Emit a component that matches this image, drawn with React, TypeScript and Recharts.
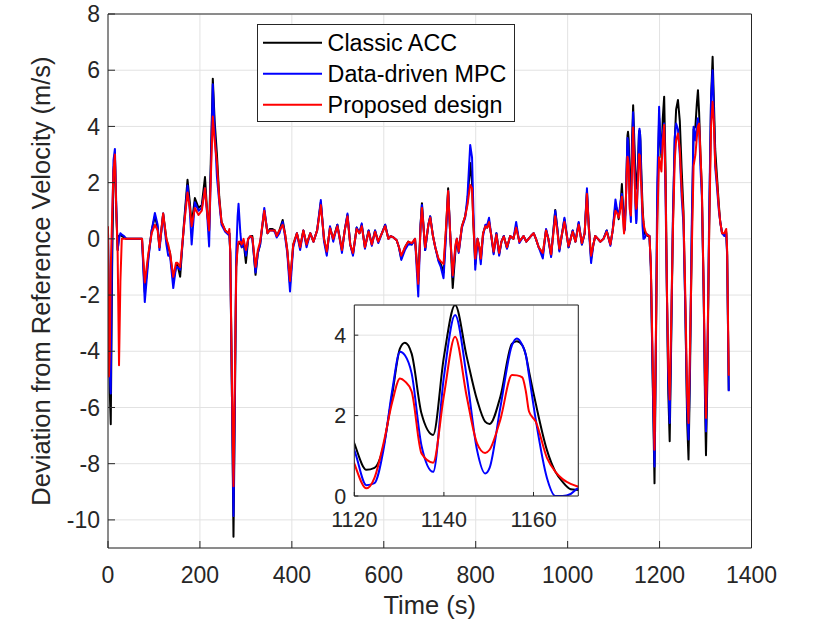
import React from 'react';
import { LineChart, Line, XAxis, YAxis, CartesianGrid, Legend, Label } from 'recharts';

const FONT = "'Liberation Sans', Arial, Helvetica, sans-serif";
const AXIS = '#262626';
const GRID = '#e2e2e2';

// Time (s)
const times = [
  0, 2, 4, 6, 9,
  12, 15, 18, 21, 24,
  27, 30, 35, 40, 74,
  80, 88, 95, 102, 108,
  112, 120, 127, 131, 135,
  142, 148, 151, 157, 165,
  173, 178, 182, 189, 197,
  204, 211, 216, 220, 228,
  232, 237, 242, 247, 255,
  262, 264, 266, 270, 273,
  276, 279, 282, 284, 288,
  291, 295, 300, 305, 310,
  314, 321, 326, 331, 340,
  347, 352, 358, 363, 367,
  373, 380, 385, 390, 396,
  403, 411, 418, 425, 432,
  440, 447, 455, 463, 470,
  476, 483, 490, 499, 509,
  515, 521, 527, 533, 541,
  547, 552, 559, 567, 574,
  581, 588, 596, 603, 610,
  615, 621, 628, 633, 638,
  646, 653, 661, 668, 675,
  680, 683, 690, 697, 701,
  707, 712, 719, 724, 730,
  735, 740, 745, 750, 756,
  759, 763, 770, 777, 782,
  788, 792, 795, 799, 804,
  808, 811, 816, 821, 825,
  829, 834, 839, 845, 851,
  856, 861, 868, 875, 882,
  888, 895, 904, 910, 920,
  926, 931, 937, 946, 953,
  958, 964, 973, 978, 982,
  988, 993, 1002, 1011, 1017,
  1024, 1031, 1037, 1042, 1046,
  1051, 1056, 1060, 1066, 1071,
  1078, 1085, 1093, 1098, 1104,
  1108, 1111, 1115, 1118, 1120,
  1122.7, 1124.5, 1126.5, 1128.5, 1130.2,
  1131.3, 1132.8, 1135, 1137.6, 1140,
  1142.5, 1145.1, 1147.4, 1149.2, 1150.2,
  1152.6, 1155.2, 1156.3, 1157.5, 1158.3,
  1159, 1160.5, 1163, 1164.9, 1166.5,
  1168.3, 1170.1, 1174, 1178, 1181,
  1185, 1189, 1192, 1195, 1199,
  1202, 1204, 1207, 1210, 1213,
  1216, 1219, 1222, 1225, 1229,
  1233, 1236, 1240, 1244, 1248,
  1252, 1256, 1260, 1263, 1266,
  1270, 1274, 1278, 1281, 1283.5,
  1286, 1289, 1292, 1296, 1299,
  1301, 1304, 1308, 1312, 1315.4,
  1318, 1321, 1325, 1329, 1332,
  1336, 1341, 1345, 1347, 1350.5,
];

// Classic ACC
const classicAcc = [
  0.3, -3.0, -5.5, -6.6, -1.0,
  2.4, 3.0, 1.0, -0.4, 0.1,
  0.15, 0.1, 0.05, 0.0, 0.0,
  -1.9, -0.6, 0.3, 0.8, 0.4,
  -0.3, 0.9, 0.0, -0.3, -0.5,
  -1.5, -1.0, -0.9, -1.35, 0.5,
  2.1, 1.3, 0.5, 1.45, 1.1,
  1.2, 2.2, 0.9, 0.3, 5.7,
  4.2, 3.0, 1.5, 0.6, 0.3,
  0.2, 0.2, -0.5, -6.0, -10.6,
  -6.0, -1.0, -0.2, -0.2, -0.1,
  -0.3, -0.1, -0.86, 0.0, 0.1,
  0.1, -1.28, -0.5, -0.2, 1.0,
  0.2, 0.35, 0.35, 0.3, 0.1,
  0.3, 0.67, 0.2, -0.4, -1.6,
  -0.2, 0.2, -0.3, 0.3, -0.2,
  0.2, -0.1, 0.3, 1.3, 0.0,
  -0.5, 0.4, 0.0, 0.5, -0.4,
  0.3, 0.85, -0.2, -0.55, 0.4,
  0.2, 0.5, -0.3, 0.3, -0.2,
  0.3, -0.1, 0.2, 0.5, 0.0,
  0.1, 0.05, -0.05, -0.3, -0.7,
  -0.3, -0.1, -0.2, 0.0, -1.5,
  0.5, 1.27, -0.4, 0.5, 0.8,
  0.1, -0.3, -0.75, -0.9, -1.2,
  0.2, 1.8, 0.0, -1.75, -0.4,
  0.0, -0.45, 0.45, 0.8, 1.3,
  2.7, 2.0, 0.5, -0.9, 0.0,
  -0.3, -0.75, 0.2, 0.45, 0.4,
  0.62, 0.1, -0.5, 0.2, -0.55,
  -0.1, 0.1, -0.33, 0.1, 0.0,
  0.45, -0.1, 0.1, -0.1, 0.1,
  0.2, 0.0, -0.3, -0.55, 0.32,
  0.0, -0.6, 1.03, 0.3, -0.4,
  0.2, 0.7, -0.3, 0.3, -0.1,
  0.56, -0.2, 0.2, 1.68, 0.5,
  -0.7, -0.2, 0.1, 0.0, -0.1,
  0.0, 0.3, -0.2, 0.3, 1.2,
  1.0, 0.7, 1.2, 1.95, 1.31,
  0.65, 0.7, 1.23, 2.55, 3.67,
  3.81, 3.54, 2.05, 1.52, 3.46,
  4.75, 3.46, 2.39, 1.85, 1.79,
  2.47, 3.79, 3.85, 3.75, 3.5,
  3.1, 2.3, 1.14, 0.6, 0.35,
  0.17, 0.15, 0.1, 0.1, -1.0,
  -5.0, -8.7, -4.0, 1.0, 4.3,
  3.5, 2.9, 4.3, 5.06, 2.5,
  -2.0, -5.5, -7.2, -4.0, 0.5,
  3.5, 4.6, 4.94, 4.2, 2.5,
  1.0, -2.5, -6.5, -7.85, -5.0,
  0.0, 3.9, 4.0, 4.8, 5.29,
  4.5, 3.0, 1.8, -2.0, -6.0,
  -7.7, -5.0, 0.5, 5.0, 6.48,
  5.0, 3.2, 2.2, 1.2, 0.6,
  0.2, 0.15, 0.25, -0.5, -5.4,
];

// Data-driven MPC
const dataDrivenMpc = [
  0.3, -3.2, -4.8, -5.5, 0.5,
  2.8, 3.2, 1.2, -0.4, 0.0,
  0.2, 0.15, 0.1, 0.0, 0.0,
  -2.25, -0.7, 0.3, 0.92, 0.5,
  -0.4, 0.9, -0.2, -0.6, -0.6,
  -1.75, -1.0, -1.0, -1.1, 0.4,
  1.9, 1.0, -0.2, 1.3, 1.0,
  1.1, 1.8, 0.8, -0.27, 5.5,
  3.9, 2.2, 1.3, 0.5, 0.25,
  0.15, 0.2, -0.5, -6.0, -9.86,
  -5.5, -0.5, 0.8, 1.25, 0.2,
  -0.3, -0.1, -0.6, 0.0, 0.1,
  0.0, -1.2, -0.5, -0.2, 1.1,
  0.2, 0.3, 0.3, 0.25, 0.05,
  0.2, 0.6, 0.1, -0.5, -1.87,
  -0.3, 0.2, -0.4, 0.3, -0.3,
  0.2, -0.1, 0.3, 1.38, -0.1,
  -0.6, 0.45, -0.1, 0.5, -0.5,
  0.3, 0.9, -0.2, -0.6, 0.4,
  0.2, 0.55, -0.35, 0.3, -0.25,
  0.3, -0.15, 0.2, 0.5, 0.0,
  0.1, 0.05, -0.05, -0.3, -0.75,
  -0.4, -0.2, -0.2, 0.0, -2.05,
  0.5, 1.2, -0.4, 0.5, 0.8,
  0.1, -0.3, -0.8, -1.0, -1.4,
  0.0, 1.7, 0.0, -1.35, -0.3,
  0.0, -0.5, 0.4, 0.75, 1.5,
  3.34, 2.9, 1.0, -1.1, 0.0,
  -0.4, -0.9, 0.1, 0.5, 0.5,
  0.75, 0.1, -0.55, 0.2, -0.6,
  -0.1, 0.1, -0.35, 0.1, 0.0,
  0.6, -0.15, 0.1, -0.1, 0.1,
  0.2, 0.0, -0.3, -0.7, 0.35,
  0.0, -0.65, 1.0, 0.3, -0.45,
  0.2, 0.75, -0.3, 0.3, -0.1,
  0.6, -0.2, 0.2, 1.8, 0.4,
  -0.86, -0.2, 0.1, 0.0, -0.1,
  0.0, 0.3, -0.25, 0.3, 1.4,
  1.0, 0.8, 1.3, 1.6, 1.14,
  0.27, 0.32, 1.14, 2.65, 3.59,
  3.5, 3.05, 1.25, 0.6, 2.96,
  4.5, 2.96, 1.14, 0.56, 0.7,
  2.2, 3.75, 3.92, 3.75, 3.5,
  3.0, 1.9, 0.45, 0.0, 0.0,
  0.05, 0.19, 0.15, 0.1, -1.0,
  -4.8, -8.1, -3.5, 2.0, 4.7,
  3.4, 3.05, 3.8, 4.1, 1.5,
  -2.0, -5.0, -6.55, -3.6, 0.8,
  3.6, 4.1, 3.9, 3.0, 1.5,
  0.5, -2.5, -6.0, -7.14, -4.5,
  0.5, 3.99, 3.5, 4.0, 4.29,
  4.0, 2.5, 1.5, -2.0, -5.5,
  -6.85, -4.5, 1.0, 5.0, 6.0,
  4.5, 2.57, 1.8, 1.0, 0.6,
  0.2, 0.1, 0.2, -0.6, -5.42,
];

// Proposed design
const proposedDesign = [
  0.45, -4.9, -4.0, -1.0, 0.8,
  2.4, 3.0, 1.0, -0.5, -4.5,
  -1.5, 0.0, 0.0, 0.0, 0.0,
  -1.55, -0.5, 0.2, 0.5, 0.3,
  -0.3, 0.9, 0.0, -0.2, -0.5,
  -1.35, -0.85, -0.85, -1.0, 0.4,
  1.65, 1.1, 0.45, 1.1, 0.85,
  1.0, 1.8, 0.9, 0.3, 4.35,
  3.5, 2.7, 1.4, 0.6, 0.3,
  0.2, 0.35, -0.5, -5.5, -8.8,
  -5.0, -1.0, -0.3, -0.1, -0.1,
  -0.2, 0.0, -0.4, 0.0, 0.1,
  0.05, -1.0, -0.4, -0.1, 1.0,
  0.2, 0.3, 0.3, 0.3, 0.1,
  0.3, 0.5, 0.2, -0.4, -1.5,
  -0.2, 0.2, -0.3, 0.3, -0.2,
  0.2, -0.1, 0.3, 1.2, 0.0,
  -0.45, 0.38, 0.0, 0.45, -0.4,
  0.3, 0.8, -0.2, -0.5, 0.35,
  0.2, 0.45, -0.3, 0.25, -0.2,
  0.25, -0.1, 0.2, 0.45, 0.0,
  0.1, 0.05, -0.05, -0.3, -0.6,
  -0.3, -0.1, -0.15, 0.0, -1.6,
  0.4, 1.1, -0.3, 0.5, 0.75,
  0.1, -0.3, -0.7, -0.8, -0.9,
  0.3, 1.7, 0.0, -1.3, -0.2,
  0.0, -0.45, 0.45, 0.8, 1.2,
  1.92, 1.8, 0.5, -0.7, 0.0,
  -0.3, -0.7, 0.2, 0.45, 0.4,
  0.6, 0.1, -0.45, 0.15, -0.5,
  -0.1, 0.08, -0.3, 0.1, 0.0,
  0.4, -0.1, 0.1, -0.1, 0.1,
  0.2, 0.0, -0.3, -0.5, 0.3,
  0.0, -0.55, 0.8, 0.2, -0.35,
  0.2, 0.6, -0.25, 0.25, -0.1,
  0.5, -0.15, 0.2, 1.6, 0.4,
  -0.6, -0.2, 0.1, 0.0, -0.1,
  0.0, 0.25, -0.2, 0.3, 1.0,
  0.9, 0.75, 1.1, 1.5, 0.81,
  0.19, 0.45, 1.3, 2.35, 2.92,
  2.85, 2.6, 1.06, 0.83, 2.5,
  3.96, 2.47, 1.31, 1.07, 1.15,
  1.9, 3.01, 3.0, 2.95, 2.6,
  2.1, 1.85, 0.95, 0.6, 0.42,
  0.3, 0.23, 0.12, 0.1, -0.9,
  -4.3, -7.5, -3.5, 0.5, 2.9,
  2.6, 2.4, 3.5, 4.05, 2.0,
  -1.8, -4.5, -5.72, -3.2, 0.3,
  2.8, 3.5, 3.75, 3.2, 1.8,
  0.8, -2.0, -5.5, -6.55, -4.0,
  -0.5, 2.6, 3.0, 3.6, 4.0,
  4.1, 3.0, 1.8, -1.8, -5.0,
  -6.37, -4.2, 0.3, 4.0, 4.88,
  4.2, 2.7, 2.0, 1.1, 0.6,
  0.2, 0.2, 0.35, -0.4, -4.87,
];

const seriesNames = ['Classic ACC', 'Data-driven MPC', 'Proposed design'];
const seriesColors = ['#000000', '#0000ff', '#ff0000'];
const xTicks = [0, 200, 400, 600, 800, 1000, 1200, 1400];
const yTicks = [-10, -8, -6, -4, -2, 0, 2, 4, 6, 8];
const insetXTicks = [1120, 1140, 1160];
const insetYTicks = [0, 2, 4];

const rows = times.map((t, i) => ({
  t,
  classic: classicAcc[i],
  mpc: dataDrivenMpc[i],
  proposed: proposedDesign[i],
}));

const seriesKeys = ['classic', 'mpc', 'proposed'];

function LegendBox(props: any) {
  const payload = props.payload ?? [];
  return (
    <svg width={258} height={98} style={{ display: 'block' }}>
      <rect x={0.5} y={0.5} width={257} height={97} fill="#ffffff" stroke={AXIS} strokeWidth={1} />
      {payload.map((p: any, i: number) => {
        const cy = 18.7 + i * 31;
        return (
          <g key={i}>
            <line x1={6} x2={65} y1={cy} y2={cy} stroke={p.color} strokeWidth={2} />
            <text x={70.6} y={cy + 8.7} fontSize={23.3} fontFamily={FONT} fill="#000000">
              {p.value}
            </text>
          </g>
        );
      })}
    </svg>
  );
}

const XTitle = () => (
  <text x={429.75} y={614} textAnchor="middle" fontSize={25.5} fontFamily={FONT} fill={AXIS}>
    Time (s)
  </text>
);

const YTitle = () => (
  <text
    x={50}
    y={281}
    transform="rotate(-90 50 281)"
    textAnchor="middle"
    fontSize={25.5}
    fontFamily={FONT}
    fill={AXIS}
  >
    Deviation from Reference Velocity (m/s)
  </text>
);

const tickStyle = { fill: AXIS, fontSize: 23, fontFamily: FONT };
const insetTickStyle = { fill: AXIS, fontSize: 21.5, fontFamily: FONT };

export default function App() {
  return (
    <div style={{ position: 'absolute', left: 0, top: 0, width: 830, height: 623, background: '#ffffff' }}>
      <LineChart width={830} height={623} data={rows} margin={{ top: 13, right: 77.5, bottom: 0, left: 0 }}>
        <CartesianGrid stroke={GRID} strokeWidth={1} />
        <XAxis
          dataKey="t"
          type="number"
          domain={[0, 1400]}
          ticks={xTicks}
          interval={0}
          allowDataOverflow
          height={75}
          tickSize={-7}
          tickMargin={26}
          stroke={AXIS}
          tick={tickStyle}
        >
          <Label content={XTitle} />
        </XAxis>
        <XAxis
          xAxisId="top"
          orientation="top"
          dataKey="t"
          type="number"
          domain={[0, 1400]}
          ticks={xTicks}
          interval={0}
          allowDataOverflow
          height={1}
          tickSize={-7}
          stroke={AXIS}
          tick={false}
        />
        <YAxis
          type="number"
          domain={[-11, 8]}
          ticks={yTicks}
          interval={0}
          allowDataOverflow
          width={108}
          tickSize={-7}
          tickMargin={15}
          stroke={AXIS}
          tick={tickStyle}
        >
          <Label content={YTitle} />
        </YAxis>
        <YAxis
          yAxisId="right"
          orientation="right"
          type="number"
          domain={[-11, 8]}
          ticks={yTicks}
          interval={0}
          allowDataOverflow
          width={1}
          tickSize={-7}
          stroke={AXIS}
          tick={false}
        />
        {seriesKeys.map((k, i) => (
          <Line
            key={k}
            type="linear"
            dataKey={k}
            name={seriesNames[i]}
            stroke={seriesColors[i]}
            strokeWidth={2}
            dot={false}
            activeDot={false}
            strokeLinejoin="round"
            isAnimationActive={false}
          />
        ))}
        <Legend
          layout="horizontal"
          verticalAlign="middle"
          align="center"
          wrapperStyle={{ left: 256.5, top: 24, width: 258, height: 98 }}
          content={LegendBox}
        />
      </LineChart>

      <div style={{ position: 'absolute', left: 300, top: 290, width: 300, height: 250 }}>
        <LineChart width={300} height={250} data={rows} margin={{ top: 14, right: 20.7, bottom: 0, left: 0 }}>
          <CartesianGrid stroke={GRID} strokeWidth={1} fill="#ffffff" fillOpacity={1} />
          <XAxis
            dataKey="t"
            type="number"
            domain={[1120, 1170]}
            ticks={insetXTicks}
            interval={0}
            allowDataOverflow
            height={44}
            tickSize={-4}
            tickMargin={20}
            stroke={AXIS}
            tick={insetTickStyle}
          />
          <XAxis
            xAxisId="top"
            orientation="top"
            dataKey="t"
            type="number"
            domain={[1120, 1170]}
            ticks={insetXTicks}
            interval={0}
            allowDataOverflow
            height={1}
            tickSize={-4}
            stroke={AXIS}
            tick={false}
          />
          <YAxis
            type="number"
            domain={[0, 4.75]}
            ticks={insetYTicks}
            interval={0}
            allowDataOverflow
            width={54.3}
            tickSize={-4}
            tickMargin={12}
            stroke={AXIS}
            tick={insetTickStyle}
          />
          <YAxis
            yAxisId="right"
            orientation="right"
            type="number"
            domain={[0, 4.75]}
            ticks={insetYTicks}
            interval={0}
            allowDataOverflow
            width={1}
            tickSize={-4}
            stroke={AXIS}
            tick={false}
          />
          {seriesKeys.map((k, i) => (
            <Line
              key={k}
              type="monotone"
              dataKey={k}
              name={seriesNames[i]}
              stroke={seriesColors[i]}
              strokeWidth={2}
              dot={false}
              activeDot={false}
              isAnimationActive={false}
            />
          ))}
        </LineChart>
      </div>
    </div>
  );
}
